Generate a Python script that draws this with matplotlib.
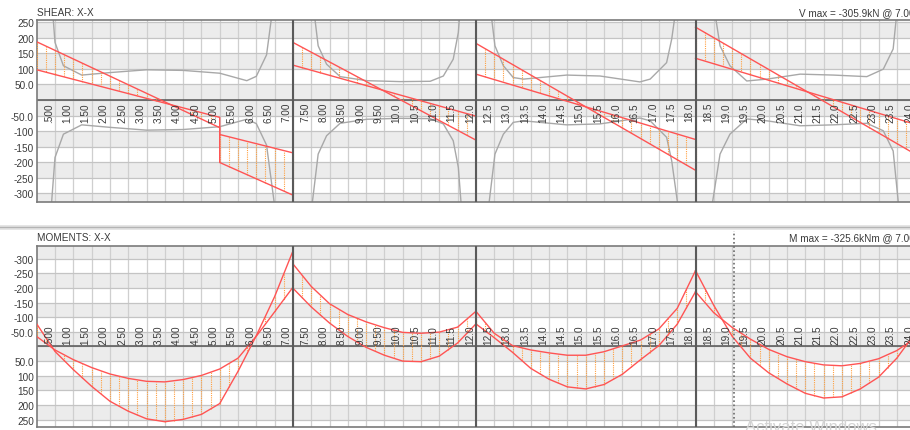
import numpy as np
import matplotlib
matplotlib.use("Agg")
import matplotlib.pyplot as plt
from matplotlib import transforms

plt.rcParams['font.family'] = ['Liberation Sans', 'DejaVu Sans']

supports = [7.0, 12.0, 18.0]
x_right = 23.86

# shear envelopes per span (kN)
shear_x = [[0.0, 5.0, 5.0, 7.0], [7.0, 12.0], [12.0, 18.0], [18.0, 24.0]]
shear_a = [[187, -89, -201, -305.9], [185, -129], [182, -226], [234, -174]]
shear_b = [[97, -56, -111, -170], [112, -52], [83, -127], [134, -78]]

# shear capacity curves, drawn as +/- (kN)
cap_x = [[0.40, 0.50, 0.73, 1.23, 2.0, 3.0, 4.0, 5.0, 5.74, 6.0, 6.28, 6.50],
         [7.52, 7.69, 7.92, 8.29, 9.02, 9.93, 10.75, 11.11, 11.38, 11.52, 11.60],
         [12.35, 12.52, 12.75, 13.02, 13.3, 13.75, 14.48, 15.39, 16.48, 16.76, 17.21, 17.35, 17.52],
         [18.45, 18.67, 18.94, 19.4, 19.95, 20.86, 21.77, 22.68, 23.13, 23.4, 23.55]]
cap_v = [[340, 185, 110, 80, 88, 97, 95, 86, 62, 76, 145, 340],
         [340, 174, 115, 75, 62, 59, 60, 77, 131, 217, 340],
         [340, 174, 110, 72, 67, 72, 80, 77, 58, 67, 120, 196, 340],
         [340, 174, 110, 61, 67, 83, 80, 75, 99, 164, 340]]

# moment envelopes per span (kNm), hogging negative
mom_x = [[0.0, 0.5, 1.0, 1.5, 2.0, 2.5, 3.0, 3.5, 4.0, 4.5, 5.0, 5.5, 6.0, 6.5, 7.0],
         [7.0, 7.5, 8.0, 8.5, 9.0, 9.5, 10.0, 10.5, 11.0, 11.5, 12.0],
         [12.0, 12.5, 13.0, 13.5, 14.0, 14.5, 15.0, 15.5, 16.0, 16.5, 17.0, 17.5, 18.0],
         [18.0, 18.5, 19.0, 19.5, 20.0, 20.5, 21.0, 21.5, 22.0, 22.5, 23.0, 23.5, 24.0]]
mom_a = [[-77, 17, 79, 136, 187, 221, 247, 257, 249, 232, 195, 85, -37, -170, -325.6],
         [-199, -135, -80, -34, 3, 30, 50, 52, 33, -12, -77],
         [-77, -30, 20, 75, 112, 138, 145, 130, 95, 45, -3, -76, -187],
         [-259, -140, -35, 40, 90, 128, 160, 176, 172, 145, 105, 40, -45]]
mom_b = [[-34, 12, 45, 72, 94, 109, 119, 121, 113, 99, 77, 40, -35, -118, -202],
         [-282, -205, -146, -109, -84, -64, -48, -45, -49, -66, -120],
         [-120, -45, -3, 12, 22, 30, 30, 18, -2, -22, -60, -130, -259],
         [-187, -115, -65, -25, 10, 35, 52, 63, 66, 58, 42, 14, -28]]

x_ticks = [0.5 * k for k in range(1, 49)]
shear_yticks = [250, 200, 150, 100, 50, -50, -100, -150, -200, -250, -300]
mom_yticks = [-300, -250, -200, -150, -100, -50, 50, 100, 150, 200, 250]
# shaded rows, alternating outward from the zero line
bands = [(0, 50), (100, 150), (200, 250), (-50, 0), (-150, -100), (-250, -200), (-350, -300)]

RED = '#ff5454'
ORANGE = '#ffa040'
GREY = '#a8a8a8'
TXT = '#3a3a3a'


def fmt_x(v):
    if v < 1:
        return f"{v:.3f}"[1:]
    if v < 10:
        return f"{v:.2f}"
    return f"{v:.1f}"


def fmt_y(v):
    return f"{v:.1f}" if abs(v) < 100 else f"{v:.0f}"


def base_axes(ax, ylim, yticks):
    ax.set_xlim(0, x_right)
    ax.set_ylim(*ylim)
    for lo, hi in bands:
        ax.axhspan(lo, hi, color='#ececec', lw=0, zorder=0)
    for v in x_ticks:
        ax.axvline(v, color='#cfcfcf', lw=0.9, zorder=1)
    for v in range(-350, 351, 50):
        ax.axhline(v, color='#c4c4c4', lw=0.9, zorder=1)
    ax.axhline(0, color='#555555', lw=1.1, zorder=2)
    for s in supports:
        ax.axvline(s, color='#5a5a5a', lw=1.5, zorder=6)
    ax.set_xticks([])
    ax.set_yticks(yticks)
    ax.set_yticklabels([fmt_y(v) for v in yticks], fontsize=7.2, color=TXT)
    ax.tick_params(axis='y', length=0, pad=2)
    for sp in ax.spines.values():
        sp.set_color('#7a7a7a')
        sp.set_linewidth(1.2)
    ax.spines['right'].set_visible(False)


def draw_env(ax, xs, ya, yb):
    for x, a, b in zip(xs, ya, yb):
        hx = np.arange(x[0], x[-1] + 1e-6, 0.25)
        ax.vlines(hx, np.interp(hx, x, a), np.interp(hx, x, b),
                  colors=ORANGE, lw=0.8, linestyles=(0, (1, 1)), zorder=3)
        ax.plot(x, a, color=RED, lw=1.0, zorder=4)
        ax.plot(x, b, color=RED, lw=1.0, zorder=4)


def x_labels(ax, fig, below):
    off = transforms.offset_copy(ax.transData, fig=fig, x=-6, y=-2 if below else 2, units='dots')
    for v in x_ticks:
        ax.text(v, 0, fmt_x(v), transform=off, rotation=90, fontsize=7.2, color=TXT,
                ha='center', va='top' if below else 'bottom', zorder=5)


fig = plt.figure(figsize=(9.1, 4.31), dpi=100)
ax1 = fig.add_axes([36.7 / 910, 1 - 203 / 431, 1 - 36.7 / 910, (203 - 20.7) / 431])
ax2 = fig.add_axes([36.7 / 910, 1 - 428 / 431, 1 - 36.7 / 910, (428 - 246.7) / 431])

# shear
base_axes(ax1, (-328, 258), shear_yticks)
for x, v in zip(cap_x, cap_v):
    ax1.plot(x, v, color=GREY, lw=1.0, zorder=2)
    ax1.plot(x, [-t for t in v], color=GREY, lw=1.0, zorder=2)
draw_env(ax1, shear_x, shear_a, shear_b)
x_labels(ax1, fig, below=True)
fig.text(36.7 / 910, 1 - 13.5 / 431, 'SHEAR: X-X', fontsize=7.2, color=TXT, va='center')
fig.text(799 / 910, 1 - 13.5 / 431, 'V max = -305.9kN @ 7.00m', fontsize=7.2, color=TXT, va='center')

# moments (hogging drawn upward)
base_axes(ax2, (275, -344), mom_yticks)
draw_env(ax2, mom_x, mom_a, mom_b)
x_labels(ax2, fig, below=False)
fig.text(36.7 / 910, 1 - 238.5 / 431, 'MOMENTS: X-X', fontsize=7.2, color=TXT, va='center')
fig.text(789 / 910, 1 - 238.5 / 431, 'M max = -325.6kNm @ 7.00m', fontsize=7.2, color=TXT, va='center')

# cursor line
cur = transforms.blended_transform_factory(ax2.transData, ax2.transAxes)
ax2.plot([19.06, 19.06], [0, 1.083], transform=cur, color='#6a6a6a', lw=1.2,
         ls=(0, (1, 1.5)), clip_on=False, zorder=7)

# panel separator
fig.add_artist(plt.Line2D([0, 1], [1 - 228.3 / 431] * 2, transform=fig.transFigure, color='#e4e4e4', lw=3.5))
fig.add_artist(plt.Line2D([0, 1], [1 - 228.3 / 431] * 2, transform=fig.transFigure, color='#b4b4b4', lw=1.0))

fig.text(745 / 910, 1 - 420 / 431, 'Activate Windows', fontsize=12, color='#d4d4d4', va='top', zorder=10)

fig.savefig('out.png', dpi=100)
